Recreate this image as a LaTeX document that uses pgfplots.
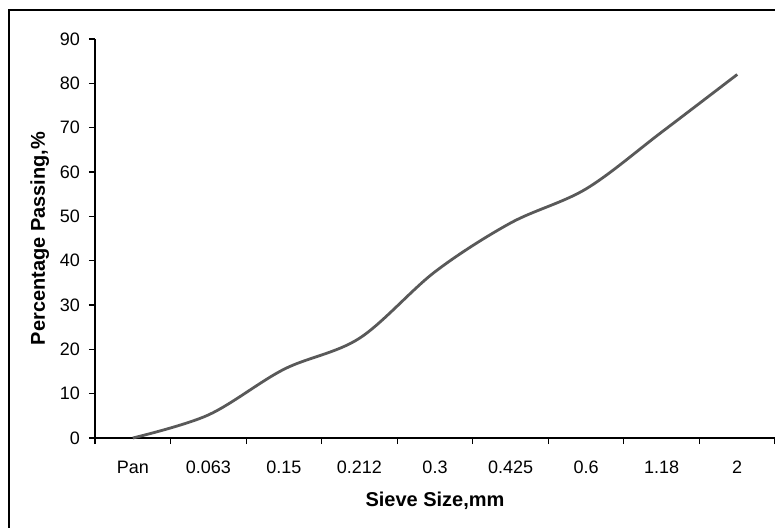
\documentclass[border=0pt]{standalone}
\usepackage{pgfplots}
\pgfplotsset{compat=1.18}
\usepackage{fontspec}
\setmainfont{Liberation Sans}
\begin{document}
\begin{tikzpicture}
\begin{axis}[
  scale only axis,
  width=340pt, height=199.5pt,
  xmin=0.5, xmax=9.5,
  ymin=0, ymax=90,
  axis x line*=bottom,
  axis y line*=left,
  axis line style={black, line width=0.6pt},
  xtick={1,...,9},
  xticklabels={Pan,0.063,0.15,0.212,0.3,0.425,0.6,1.18,2},
  minor xtick={0.5,1.5,...,9.5},
  ytick={0,10,...,90},
  tick align=outside,
  major tick length=3pt,
  minor tick length=3pt,
  major x tick style={draw=none},
  minor x tick style={black, line width=0.6pt},
  ytick style={black, line width=0.6pt},
  /pgf/number format/assume math mode=true,
  ticklabel style={font=\fontsize{9}{10}\selectfont},
  xticklabel style={yshift=-5pt},
  yticklabel style={xshift=-1pt},
  xlabel={\textbf{Sieve Size,mm}},
  ylabel={\textbf{Percentage Passing,\%}},
  label style={font=\fontsize{10}{12}\selectfont},
  xlabel style={yshift=-2pt},
  ylabel style={yshift=-1.5pt},
  clip=false,
]
\addplot[black!65, line width=1.4pt, smooth, tension=0.55] coordinates {
  (1,0) (2,5.2) (3,15.5) (4,22.5) (5,37.5) (6,48.5) (7,56.2) (8,69) (9,82)
};
\end{axis}
\draw[black, line width=0.6pt] (-43pt,-60pt) -- (-43pt,214pt) -- (360pt,214pt);
\pgfresetboundingbox
\path[use as bounding box] (-47.5pt,-44.5pt) rectangle (340pt,219pt);
\end{tikzpicture}
\end{document}
